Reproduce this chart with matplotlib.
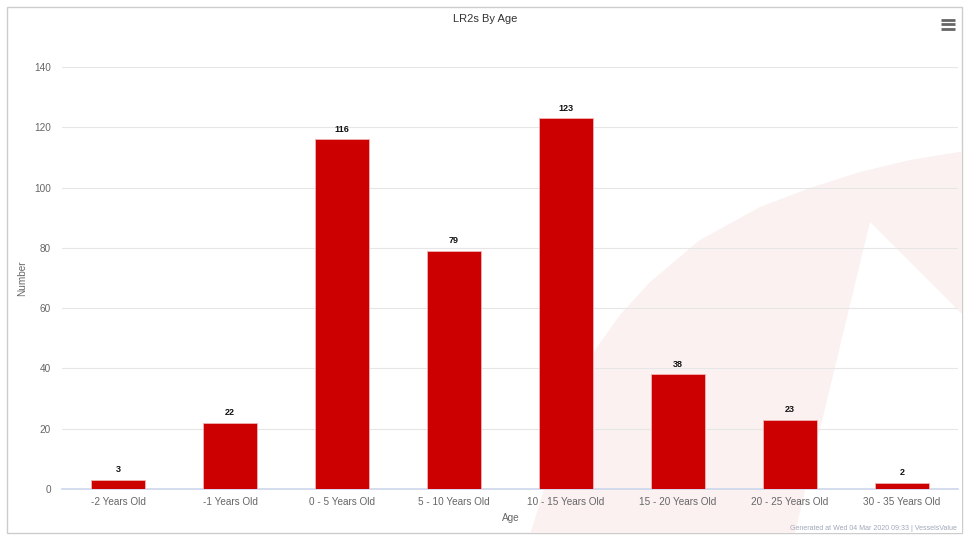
import matplotlib
matplotlib.use("Agg")
import matplotlib.pyplot as plt
from matplotlib.patches import Rectangle, Polygon

categories = ["-2 Years Old", "-1 Years Old", "0 - 5 Years Old", "5 - 10 Years Old",
              "10 - 15 Years Old", "15 - 20 Years Old", "20 - 25 Years Old", "30 - 35 Years Old"]
values = [3, 22, 116, 79, 123, 38, 23, 2]
yticks = [0, 20, 40, 60, 80, 100, 120, 140]

plt.rcParams['font.family'] = ['Liberation Sans', 'DejaVu Sans']

W, H = 970, 541
fig = plt.figure(figsize=(W / 100, H / 100), dpi=100)

def fx(x):
    return x / W

def fy(y):
    return 1 - y / H

# border
border = Rectangle((fx(7), fy(533)), fx(962) - fx(7), fy(7) - fy(533),
                   transform=fig.transFigure, facecolor='white', edgecolor='#cccccc',
                   linewidth=1.0, zorder=0)
fig.patches.append(border)

# watermark (decorative logo shape, pixel outline)
outline = [(528, 541), (533, 525), (550, 470), (570, 410), (595, 350), (620, 315),
           (650, 282), (700, 240), (760, 207), (810, 188), (860, 172), (910, 160),
           (965, 151), (965, 541)]
wm = Polygon([(fx(a), fy(b)) for a, b in outline], closed=True, transform=fig.transFigure,
             facecolor='#fbf1f1', edgecolor='none', zorder=0.5)
wm.set_clip_path(border)
fig.patches.append(wm)
cut = Polygon([(fx(870), fy(222)), (fx(965), fy(317)), (fx(965), fy(541)), (fx(793), fy(541))],
              closed=True, transform=fig.transFigure, facecolor='white', edgecolor='none', zorder=0.6)
cut.set_clip_path(border)
fig.patches.append(cut)

# axes
left, right, bottom, top = 62, 958, 489, 67
ax = fig.add_axes([fx(left), fy(bottom), fx(right) - fx(left), fy(top) - fy(bottom)])
ax.set_facecolor('none')
ax.set_zorder(2)

x = list(range(len(categories)))
ax.bar(x, values, width=0.48, color='#cc0000', edgecolor='#f2b3b3', linewidth=0.6, zorder=3)
ax.set_xlim(-0.5, len(categories) - 0.5)
ax.set_ylim(0, 140)
ax.set_yticks(yticks)
ax.set_yticklabels([str(t) for t in yticks])
ax.set_xticks(x)
ax.set_xticklabels(categories)

ax.grid(axis='y', color='#e6e6e6', linewidth=0.8, zorder=0)
ax.set_axisbelow(True)
for s in ['top', 'right', 'left']:
    ax.spines[s].set_visible(False)
ax.spines['bottom'].set_color('#ccd6eb')
ax.spines['bottom'].set_linewidth(1.2)
ax.tick_params(axis='both', length=0, labelsize=7.2, labelcolor='#666666')
ax.tick_params(axis='x', pad=6)
ax.tick_params(axis='y', pad=8)

for xi, v in zip(x, values):
    ax.annotate(str(v), (xi, v), xytext=(0, 4), textcoords='offset points',
                ha='center', va='bottom', fontsize=6.5, fontweight='bold', color='#111111')

fig.text(fx(485), fy(19), "LR2s By Age", ha='center', va='center', fontsize=8, color='#333333')
fig.text(fx(511), fy(518), "Age", ha='center', va='center', fontsize=7.2, color='#666666')
fig.text(fx(22), fy(278), "Number", ha='center', va='center', rotation=90, fontsize=7.2, color='#666666')
fig.text(fx(957), fy(528), "Generated at Wed 04 Mar 2020 09:33 | VesselsValue", ha='right', va='center',
         fontsize=5, color='#a0a8b8')

# menu icon
for yy in (19.5, 24, 28.5):
    fig.add_artist(plt.Line2D([fx(941), fx(955)], [fy(yy), fy(yy)], transform=fig.transFigure,
                              color='#666666', linewidth=2.0, solid_capstyle='butt'))

fig.savefig("out.png", dpi=100)
